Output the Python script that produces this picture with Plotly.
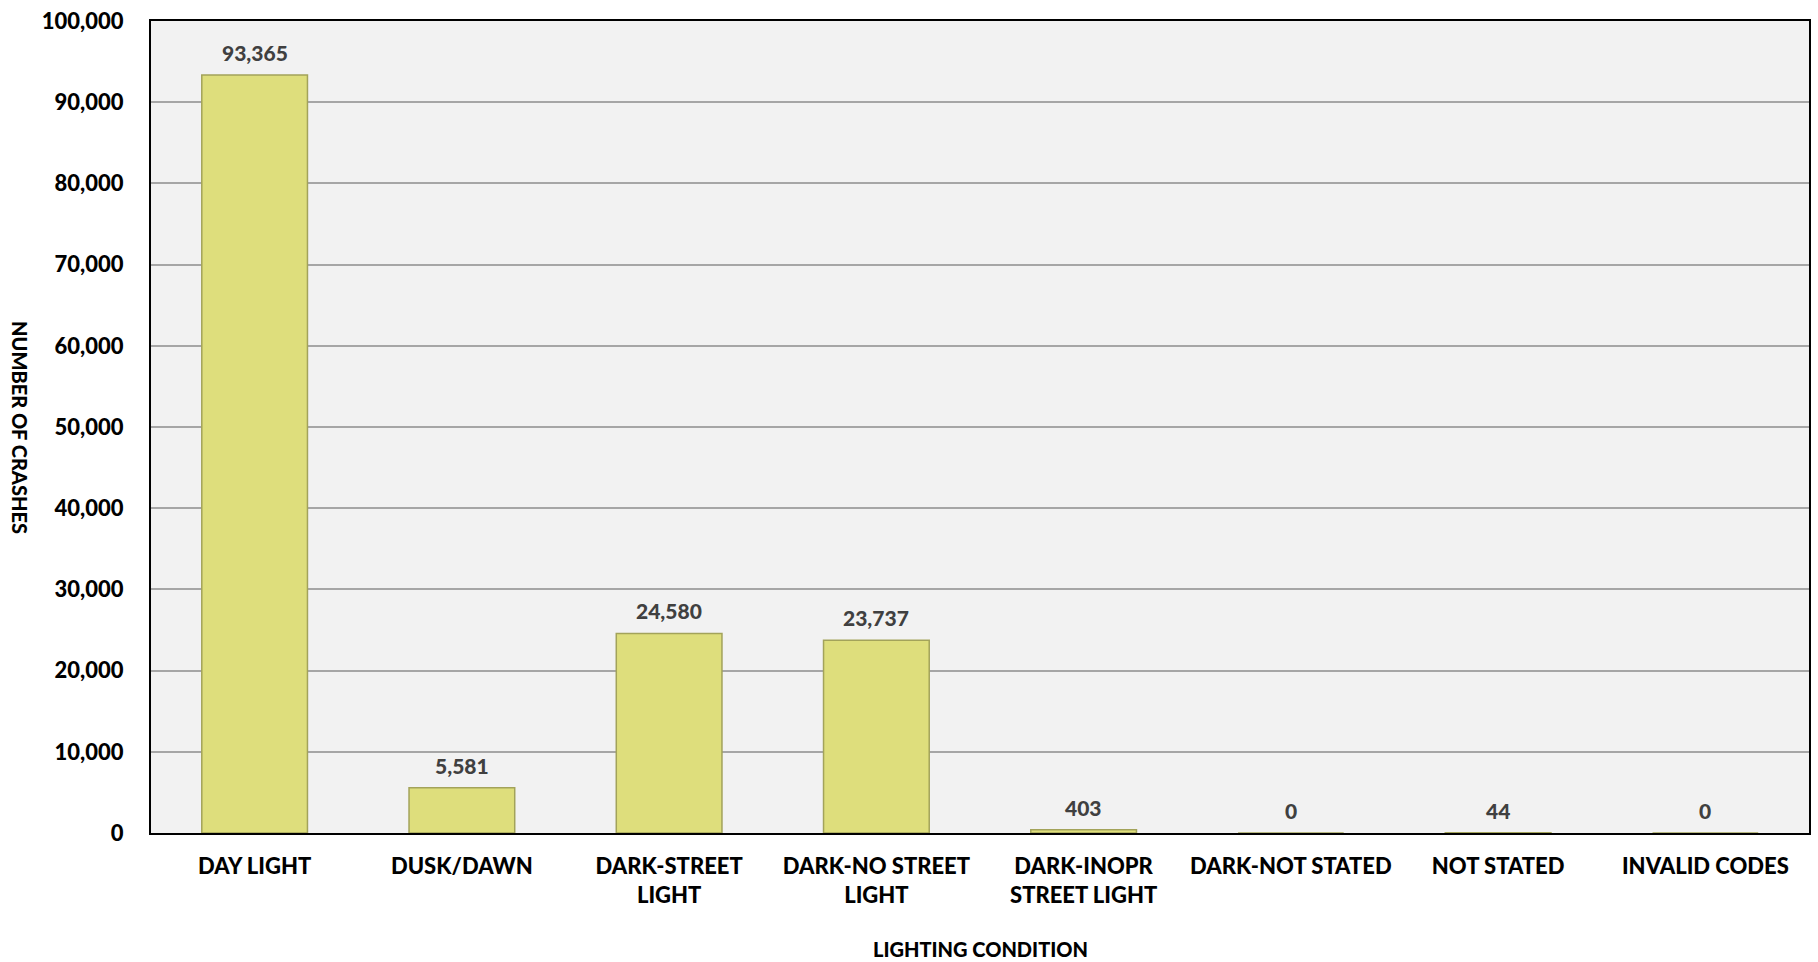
import plotly.graph_objects as go

categories = ["DAY LIGHT", "DUSK/DAWN", "DARK-STREET LIGHT", "DARK-NO STREET LIGHT",
              "DARK-INOPR STREET LIGHT", "DARK-NOT STATED", "NOT STATED", "INVALID CODES"]
tick_labels = ["DAY LIGHT", "DUSK/DAWN", "DARK-STREET<br>LIGHT", "DARK-NO STREET<br>LIGHT",
               "DARK-INOPR<br>STREET LIGHT", "DARK-NOT STATED", "NOT STATED", "INVALID CODES"]
crashes = [93365, 5581, 24580, 23737, 403, 0, 44, 0]
y_ticks = list(range(0, 100001, 10000))

FONT = "Lato"

fig = go.Figure()
fig.add_trace(go.Bar(
    x=categories, y=crashes,
    marker=dict(color="#DEDE7C", line=dict(color="#A3A35A", width=1.5)),
    width=0.51,
    hoverinfo="x+y",
))

for c, v in zip(categories, crashes):
    fig.add_annotation(x=c, y=v, text=f"{v:,}", showarrow=False,
                       yanchor="bottom", yshift=8,
                       font=dict(family=FONT, size=21, color="#404040", weight=900))

fig.add_annotation(xref="paper", yref="paper", x=0, y=0.5, xshift=-131,
                   text="NUMBER OF CRASHES", textangle=90, showarrow=False,
                   xanchor="center", yanchor="middle",
                   font=dict(family=FONT, size=20, color="#000000", weight=900))
fig.add_annotation(xref="paper", yref="paper", x=0.5, y=0, yshift=-116,
                   text="LIGHTING CONDITION", showarrow=False,
                   xanchor="center", yanchor="middle",
                   font=dict(family=FONT, size=20, color="#000000", weight=900))

fig.update_layout(
    width=1818, height=962,
    margin=dict(l=151, r=7, t=16, b=129),
    paper_bgcolor="#FFFFFF", plot_bgcolor="#F2F2F2",
    showlegend=False,
    font=dict(family=FONT, color="#000000"),
)
fig.update_xaxes(
    tickmode="array", tickvals=categories, ticktext=tick_labels,
    tickfont=dict(family=FONT, size=22, color="#000000", weight=900),
    showline=True, linecolor="#000000", linewidth=2, mirror=True,
    ticks="", ticklabelstandoff=13, showgrid=False,
)
fig.update_yaxes(
    range=[0, 100000], tickvals=y_ticks, tickformat=",",
    tickfont=dict(family=FONT, size=22, color="#000000", weight=900),
    showline=True, linecolor="#000000", linewidth=2, mirror=True,
    showgrid=True, gridcolor="#A6A6A6", gridwidth=1.5,
    ticks="", ticklabelstandoff=21, zeroline=False,
)

fig.write_html("out.html", config={"displayModeBar": False},
               post_script="document.body.style.margin='0px';document.body.style.padding='0px';")
